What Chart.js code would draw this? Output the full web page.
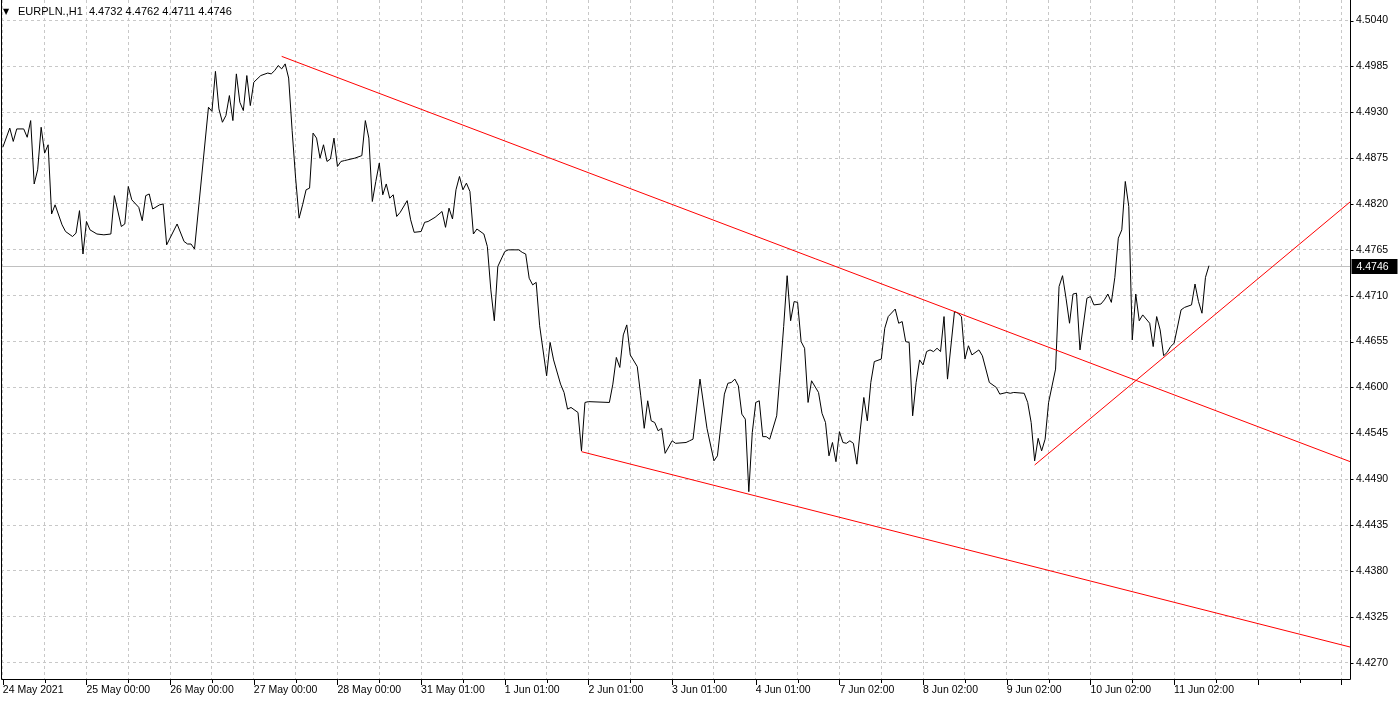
<!DOCTYPE html>
<html><head><meta charset="utf-8">
<script src="https://cdn.jsdelivr.net/npm/chart.js@4.4.0/dist/chart.umd.min.js"></script>
<style>html,body{margin:0;padding:0;background:#fff;overflow:hidden}canvas{display:block}</style>
</head><body>
<canvas id="c" width="1400" height="701"></canvas>
<script>
// ---- data ----
const chartTitle = 'EURPLN.,H1';
const lastBarOHLC = [4.4732, 4.4762, 4.4711, 4.4746];
const timeLabels = ['24 May 2021','25 May 00:00','26 May 00:00','27 May 00:00','28 May 00:00','31 May 01:00','1 Jun 01:00','2 Jun 01:00','3 Jun 01:00','4 Jun 01:00','7 Jun 02:00','8 Jun 02:00','9 Jun 02:00','10 Jun 02:00','11 Jun 02:00'];
const barsPerLabel = 24;
const yTicks = [4.5040,4.4985,4.4930,4.4875,4.4820,4.4765,4.4710,4.4655,4.4600,4.4545,4.4490,4.4435,4.4380,4.4325,4.4270];
const barIndex = [0,2,3,4,6,7,8,9,10,11,12,13,14,15,17,18,20,21,22,23,24,25,27,29,31,32,34,35,36,37,39,40,41,42,43,45,46,47,50,52,53,54,55,59,60,61,62,63,64,65,66,67,68,69,70,71,72,74,76,77,78,79,80,81,82,83,84,85,86,87,88,89,90,91,92,93,94,95,96,97,98,99,101,103,104,105,106,107,108,109,110,111,112,113,114,116,117,118,120,121,122,124,126,127,128,129,130,131,132,133,134,135,136,138,139,140,141,142,144,145,148,149,150,151,152,153,154,156,157,158,160,161,162,163,165,166,167,168,174,175,176,177,178,179,180,182,183,184,185,186,187,188,189,190,192,193,196,197,198,200,202,204,205,207,208,209,210,211,212,213,214,215,216,217,218,219,220,222,223,224,225,226,227,228,229,230,231,232,234,235,236,237,238,239,240,241,242,243,244,245,246,247,248,249,250,252,253,254,256,257,258,259,260,261,262,263,264,265,266,267,268,269,270,271,273,274,275,276,277,278,280,281,283,285,286,288,289,290,293,294,295,296,297,298,299,300,302,303,304,305,306,307,308,309,311,312,313,315,316,317,318,319,320,321,322,323,324,325,326,327,329,330,331,332,333,334,335,336,338,339,341,342,343,344,345,346];
const closePrice = [4.4888,4.4911,4.4895,4.4910,4.4910,4.4900,4.4920,4.4844,4.4861,4.4912,4.4881,4.4891,4.4808,4.4819,4.4795,4.4787,4.4781,4.4785,4.4812,4.4760,4.4799,4.4789,4.4784,4.4783,4.4784,4.4830,4.4793,4.4796,4.4841,4.4825,4.4816,4.4800,4.4830,4.4832,4.4814,4.4819,4.4820,4.4771,4.4796,4.4775,4.4772,4.4772,4.4766,4.4936,4.4931,4.4979,4.4934,4.4918,4.4926,4.4950,4.4920,4.4976,4.4942,4.4932,4.4974,4.4938,4.4966,4.4974,4.4977,4.4976,4.4980,4.4986,4.4982,4.4988,4.4971,4.4908,4.4851,4.4803,4.4819,4.4837,4.4839,4.4905,4.4899,4.4875,4.4891,4.4871,4.4874,4.4899,4.4865,4.4871,4.4872,4.4873,4.4875,4.4878,4.4920,4.4899,4.4823,4.4847,4.4869,4.4831,4.4844,4.4827,4.4831,4.4805,4.4810,4.4824,4.4801,4.4786,4.4787,4.4798,4.4799,4.4804,4.4811,4.4792,4.4815,4.4802,4.4837,4.4853,4.4837,4.4845,4.4835,4.4784,4.4790,4.4784,4.4769,4.4717,4.4680,4.4745,4.4763,4.4765,4.4765,4.4762,4.4760,4.4731,4.4723,4.4726,4.4674,4.4614,4.4654,4.4633,4.4604,4.4594,4.4574,4.4576,4.4570,4.4524,4.4582,4.4583,4.4582,4.4604,4.4636,4.4624,4.4663,4.4675,4.4639,4.4625,4.4590,4.4551,4.4584,4.4560,4.4558,4.4548,4.4551,4.4521,4.4536,4.4533,4.4534,4.4536,4.4538,4.4610,4.4551,4.4512,4.4518,4.4592,4.4605,4.4606,4.4610,4.4602,4.4568,4.4562,4.4475,4.4546,4.4582,4.4584,4.4541,4.4541,4.4538,4.4566,4.4618,4.4673,4.4734,4.4680,4.4703,4.4702,4.4655,4.4647,4.4582,4.4608,4.4594,4.4569,4.4558,4.4518,4.4534,4.4511,4.4547,4.4534,4.4533,4.4536,4.4533,4.4508,4.4550,4.4588,4.4560,4.4606,4.4631,4.4634,4.4671,4.4685,4.4694,4.4677,4.4679,4.4655,4.4654,4.4566,4.4606,4.4633,4.4627,4.4643,4.4645,4.4643,4.4647,4.4643,4.4685,4.4610,4.4691,4.4689,4.4685,4.4634,4.4650,4.4639,4.4645,4.4638,4.4606,4.4600,4.4592,4.4594,4.4593,4.4594,4.4593,4.4582,4.4558,4.4512,4.4539,4.4524,4.4538,4.4582,4.4622,4.4721,4.4734,4.4707,4.4677,4.4712,4.4713,4.4645,4.4707,4.4709,4.4699,4.4700,4.4705,4.4712,4.4702,4.4732,4.4779,4.4789,4.4847,4.4817,4.4657,4.4712,4.4680,4.4687,4.4677,4.4649,4.4685,4.4669,4.4638,4.4642,4.4649,4.4653,4.4693,4.4696,4.4699,4.4724,4.4703,4.4689,4.4732,4.4746];
// trend lines: [bar1, price1, bar2, price2] (rays extended to the right)
const trendLine1 = [80, 4.4997, 273, 4.4691];
const trendLine2 = [166, 4.4523, 214, 4.4472];
const trendLine3 = [296, 4.4507, 333, 4.4636];
const lastPrice = 4.4746;
const xRange = [-0.516, 386.46];
const yRange = [4.42492, 4.50646];

// ---- build ----
const FONT = '"Liberation Sans", Arial, sans-serif';
const priceData = barIndex.map((b, i) => ({x: b, y: closePrice[i]}));
function ray(t) {
  const slope = (t[3] - t[1]) / (t[2] - t[0]);
  return [{x: t[0], y: t[1]}, {x: xRange[1], y: t[1] + slope * (xRange[1] - t[0])}];
}
const gridTicks = [];
for (let v = 0; v <= xRange[1]; v += barsPerLabel / 2) gridTicks.push(v);

const decor = {
  id: 'decor',
  beforeDatasetsDraw(chart) {
    const {ctx, chartArea: a, scales: {y}} = chart;
    const py = Math.round(y.getPixelForValue(lastPrice)) + 0.5;
    ctx.save();
    ctx.strokeStyle = '#c0c0c0'; ctx.lineWidth = 1;
    ctx.beginPath(); ctx.moveTo(a.left, py); ctx.lineTo(a.right, py); ctx.stroke();
    ctx.restore();
  },
  afterDraw(chart) {
    const {ctx, chartArea: a, scales: {x, y}} = chart;
    const R = Math.round(a.right) + 0.5, B = Math.round(a.bottom) - 0.5;
    ctx.save();
    // frame
    ctx.strokeStyle = '#000'; ctx.lineWidth = 1;
    ctx.beginPath();
    ctx.moveTo(1.5, a.top); ctx.lineTo(1.5, B);
    ctx.lineTo(R, B); ctx.lineTo(R, a.top);
    ctx.stroke();
    // x tick marks
    ctx.beginPath();
    gridTicks.forEach(v => {
      const px = Math.round(x.getPixelForValue(v)) + 0.5;
      const len = (v % barsPerLabel === 0) ? 5 : 3;
      ctx.moveTo(px, B + 0.5); ctx.lineTo(px, B + 0.5 + len);
    });
    // y tick marks
    yTicks.forEach(v => {
      const py = Math.round(y.getPixelForValue(v)) + 0.5;
      ctx.moveTo(R, py); ctx.lineTo(R + 3, py);
    });
    ctx.stroke();
    // last price label
    const py = Math.round(y.getPixelForValue(lastPrice));
    ctx.fillStyle = '#000';
    ctx.fillRect(R + 1, py - 7, 46, 15);
    ctx.fillStyle = '#fff';
    ctx.font = '10.5px ' + FONT;
    ctx.textBaseline = 'middle'; ctx.textAlign = 'left';
    ctx.fillText(lastPrice.toFixed(4), R + 6, py + 1);
    // header
    ctx.fillStyle = '#000';
    ctx.font = '8px "DejaVu Sans", sans-serif';
    ctx.fillText('\u25BC', 3, 12);
    ctx.font = '11px ' + FONT;
    ctx.fillText(chartTitle + '  ' + lastBarOHLC.map(v => v.toFixed(4)).join(' '), 18, 12);
    ctx.restore();
  }
};

new Chart(document.getElementById('c'), {
  type: 'line',
  data: {
    datasets: [
      {data: ray(trendLine1), borderColor: '#ff0000', borderWidth: 1, pointRadius: 0},
      {data: ray(trendLine2), borderColor: '#ff0000', borderWidth: 1, pointRadius: 0},
      {data: ray(trendLine3), borderColor: '#ff0000', borderWidth: 1, pointRadius: 0},
      {data: priceData, borderColor: '#000000', borderWidth: 1, pointRadius: 0, tension: 0}
    ]
  },
  options: {
    responsive: false, animation: false, devicePixelRatio: 1,
    layout: {padding: {left: 1, top: 0, right: 0, bottom: 0}},
    plugins: {legend: {display: false}, tooltip: {enabled: false}, title: {display: false}},
    scales: {
      x: {
        type: 'linear', position: 'bottom', min: xRange[0], max: xRange[1],
        afterBuildTicks: s => { s.ticks = gridTicks.map(v => ({value: v})); },
        afterFit: s => { s.height = 21; s.paddingLeft = 0; s.paddingRight = 0; },
        grid: {color: '#c8c8c8', lineWidth: 1, drawTicks: false, borderDash: [3, 3]},
        border: {display: false, dash: [3, 3]},
        ticks: {
          autoSkip: false, maxRotation: 0, minRotation: 0, align: 'start', padding: 4,
          color: '#000', font: {family: FONT, size: 10.5},
          callback: v => (v % barsPerLabel === 0 && v / barsPerLabel < timeLabels.length) ? timeLabels[v / barsPerLabel] : ''
        }
      },
      y: {
        type: 'linear', position: 'right', min: yRange[0], max: yRange[1],
        afterBuildTicks: s => { s.ticks = yTicks.map(v => ({value: v})); },
        afterFit: s => { s.width = 50; s.paddingTop = 0; s.paddingBottom = 0; },
        grid: {color: '#c8c8c8', lineWidth: 1, drawTicks: false, borderDash: [3, 3]},
        border: {display: false, dash: [3, 3]},
        ticks: {padding: 6, color: '#000', font: {family: FONT, size: 10.5}, callback: v => v.toFixed(4)}
      }
    }
  },
  plugins: [decor]
});
</script>
</body></html>
